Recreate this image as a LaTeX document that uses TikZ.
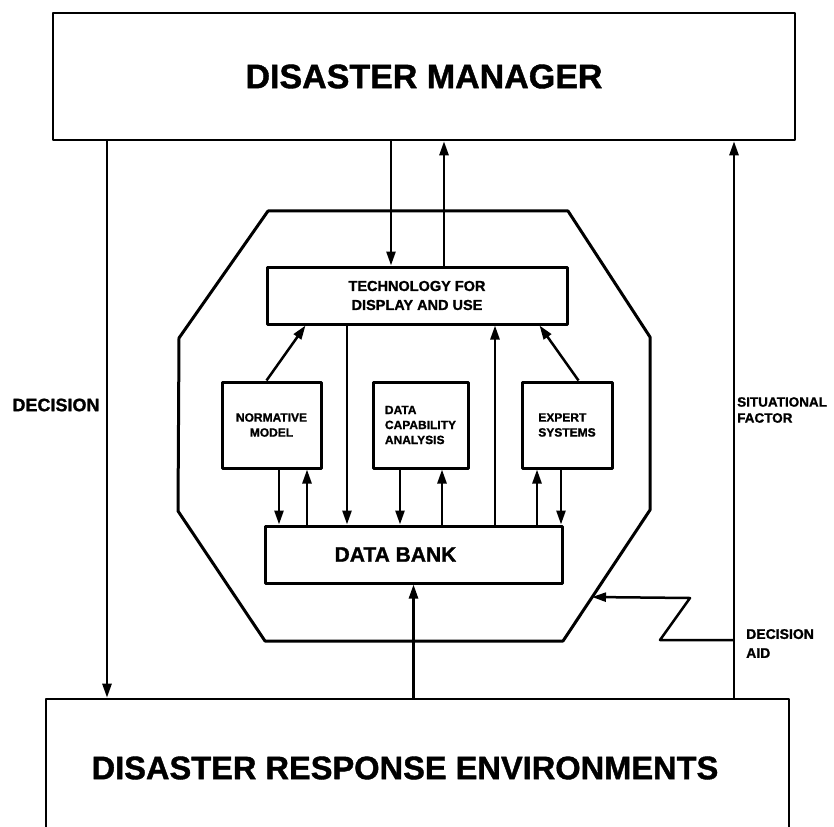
\documentclass[tikz,border=0pt]{standalone}
\usepackage{fontspec}
\setmainfont[BoldFeatures={FakeBold=1.2}]{Liberation Sans}
\usetikzlibrary{arrows.meta,calc}
\tikzset{
  caixa/.style={draw, line width=2.6pt, inner sep=0pt, font=\bfseries},
  caixinha/.style={draw, line width=3pt, inner sep=0pt, align=left,
                font=\bfseries\fontsize{12}{15}\selectfont},
  seta/.style={-{Triangle[length=14pt,width=9pt]}, line width=2.5pt},
  rotulo/.style={font=\bfseries\fontsize{13.5}{16}\selectfont, align=left, inner sep=0pt},
}

\begin{document}
\begin{tikzpicture}[x=1pt, y=-1pt, line join=round]
  \useasboundingbox (0,0) rectangle (834,826);

  % Caixas externas
  \node[caixa, minimum width=742, minimum height=127,
        font=\bfseries\fontsize{34}{40}\selectfont] (dm) at (424,76.5) {DISASTER MANAGER};
  \node[caixa, minimum width=743, minimum height=182] (dre) at (417.5,790) {};
  \node[font=\bfseries\fontsize{32.6}{38}\selectfont] (dretxt) at (405,768) {DISASTER RESPONSE ENVIRONMENTS};

  % Octogono do sistema de apoio
  \draw[line width=3pt] (268,211) -- (568,211) -- (650,337) -- (650,510)
    -- (563,641) -- (265,641) -- (178,511) -- (179,338) -- cycle;

  % Caixas internas
  \node[caixinha, minimum width=300, minimum height=57, align=center,
        font=\bfseries\fontsize{14.5}{19}\selectfont] (tech) at (417,295.5)
    {TECHNOLOGY FOR\\DISPLAY AND USE};
  \node[caixinha, minimum width=99, minimum height=86, align=center] (norm) at (271.5,425) {NORMATIVE\\MODEL};
  \node[caixinha, minimum width=95, minimum height=86] (dca) at (420.5,425) {DATA\\CAPABILITY\\ANALYSIS};
  \node[caixinha, minimum width=90, minimum height=86] (exp) at (567,425) {EXPERT\\SYSTEMS};
  \node[caixinha, minimum width=297, minimum height=57,
        font=\bfseries\fontsize{21}{24}\selectfont] (bank) at (413.5,554.5) {\hspace*{-36pt}DATA BANK};

  % Colunas das setas verticais
  \foreach \nome/\x in {xdec/107, xsit/734, xdn/391, xup/444,
                        c1/279, c2/307, c3/347, c4/400, c5/442, c6/495, c7/537, c8/561}{
    \coordinate (\nome) at (\x,0);
  }

  % Decisao e fatores situacionais
  \draw[seta] (dm.south -| xdec) -- (dre.north -| xdec);
  \draw[seta] (dre.north -| xsit) -- (dm.south -| xsit);
  \draw[seta] (dm.south -| xdn) -- (tech.north -| xdn);
  \draw[seta] (tech.north -| xup) -- (dm.south -| xup);

  % Modelos -> tecnologia
  \draw[seta] ($(norm.north west)+(46,0)$) -- ($(tech.south west)+(40,0)$);
  \draw[seta] ($(exp.north west)+(58,0)$) -- ($(tech.south east)+(-29,0)$);

  % Trocas com o banco de dados
  \draw[seta] (norm.south -| c1) -- (bank.north -| c1);
  \draw[seta] (bank.north -| c2) -- (norm.south -| c2);
  \draw[seta] (tech.south -| c3) -- (bank.north -| c3);
  \draw[seta] (dca.south -| c4) -- (bank.north -| c4);
  \draw[seta] (bank.north -| c5) -- (dca.south -| c5);
  \draw[seta] (bank.north -| c6) -- (tech.south -| c6);
  \draw[seta] (bank.north -| c7) -- (exp.south -| c7);
  \draw[seta] (exp.south -| c8) -- (bank.north -| c8);
  \draw[seta] (dre.north -| bank) -- (bank.south);

  % Apoio a decisao (seta em zigue-zague)
  \coordinate (aidknee) at (734,640);
  \coordinate (aidtip) at (592,597);
  \draw[seta] (aidknee) -- (660,640) -- (690,598) -- (aidtip);

  % Rotulos
  \node[rotulo, font=\bfseries\fontsize{18}{20}\selectfont] (ldec) at (56,405) {DECISION};
  \node[rotulo, anchor=west] (lsit) at (737,410) {SITUATIONAL\\FACTOR};
  \node[rotulo, anchor=west, font=\bfseries\fontsize{14}{19}\selectfont] (laid) at (746,643.5) {DECISION\\AID};
\end{tikzpicture}
\end{document}
